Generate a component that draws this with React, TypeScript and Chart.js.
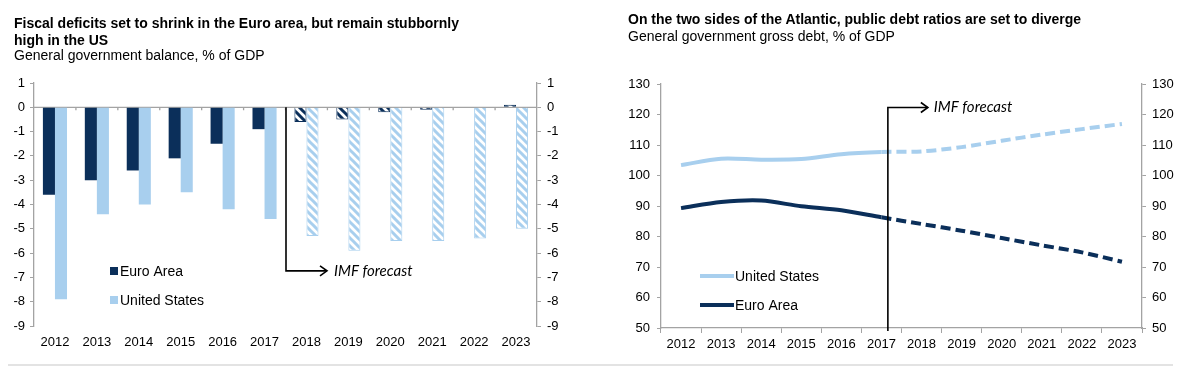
import React, { useEffect, useRef } from "react";
import { Chart, registerables } from "chart.js";

Chart.register(...registerables);

// ---------- DATA ----------
const years = ["2012", "2013", "2014", "2015", "2016", "2017", "2018", "2019", "2020", "2021", "2022", "2023"];
const euroBalance = [-3.6, -3.0, -2.6, -2.1, -1.5, -0.9, -0.6, -0.5, -0.2, -0.1, 0, 0.1];
const usBalance = [-7.9, -4.4, -4.0, -3.5, -4.2, -4.6, -5.3, -5.9, -5.5, -5.5, -5.4, -5.0];
const usDebt = [103.4, 105.5, 105.2, 105.4, 107.0, 107.7, 107.9, 109.3, 111.4, 113.4, 115.2, 116.9];
const euroDebt = [89.3, 91.3, 91.8, 89.9, 88.6, 86.3, 84.1, 81.9, 79.5, 77.1, 74.8, 71.7];
const firstForecastIndex = 6;
const balanceMin = -9;
const balanceMax = 1;
const debtMin = 50;
const debtMax = 130;
const seriesNames = ["Euro Area", "United States"];
const annotationText = "IMF forecast";
const leftTitle1 = "Fiscal deficits set to shrink in the Euro area, but remain stubbornly";
const leftTitle2 = "high in the US";
const leftSubtitle = "General government balance, % of GDP";
const rightTitle = "On the two sides of the Atlantic, public debt ratios are set to diverge";
const rightSubtitle = "General government gross debt, % of GDP";

// ---------- STYLE ----------
const NAVY = "#0b2f5a";
const LIGHT = "#a8cfee";
const AXIS = "#a3a3a3";
const FONT = "'Liberation Sans', Arial, sans-serif";
const tickFont = { family: FONT, size: 13 };

function hatch(color: string) {
  const s = 8;
  const c = document.createElement("canvas");
  c.width = s;
  c.height = s;
  const g = c.getContext("2d")!;
  g.fillStyle = "#ffffff";
  g.fillRect(0, 0, s, s);
  g.strokeStyle = color;
  g.lineWidth = 3;
  g.beginPath();
  g.moveTo(-2, -2);
  g.lineTo(s + 2, s + 2);
  g.moveTo(-2, s - 2);
  g.lineTo(2, s + 2);
  g.moveTo(s - 2, -2);
  g.lineTo(s + 2, 2);
  g.stroke();
  return g.createPattern(c, "repeat")!;
}

function drawArrowHead(g: CanvasRenderingContext2D, x: number, y: number) {
  g.beginPath();
  g.moveTo(x - 7, y - 5);
  g.lineTo(x, y);
  g.lineTo(x - 7, y + 5);
  g.stroke();
}

const fixWidth = (w: number) => (scale: any) => {
  scale.width = w;
};
const fixHeight = (h: number) => (scale: any) => {
  scale.height = h;
};

function BalanceChart() {
  const ref = useRef<HTMLCanvasElement>(null);
  useEffect(() => {
    const navyHatch = hatch(NAVY);
    const lightHatch = hatch(LIGHT);
    const overlay = {
      id: "balanceOverlay",
      beforeDatasetsDraw(chart: any) {
        const g = chart.ctx;
        const x = chart.scales.x;
        const y = chart.scales.y;
        const y0 = y.getPixelForValue(0);
        g.save();
        g.strokeStyle = AXIS;
        g.lineWidth = 1.3;
        g.beginPath();
        g.moveTo(chart.chartArea.left, y0);
        g.lineTo(chart.chartArea.right, y0);
        const step = x.getPixelForValue(1) - x.getPixelForValue(0);
        for (let i = 1; i < years.length; i++) {
          const px = x.getPixelForValue(i) - step / 2;
          g.moveTo(px, y0);
          g.lineTo(px, y0 + 3);
        }
        g.stroke();
        g.restore();
      },
      afterDatasetsDraw(chart: any) {
        const g = chart.ctx;
        const x = chart.scales.x;
        const y = chart.scales.y;
        const step = x.getPixelForValue(1) - x.getPixelForValue(0);
        const ax = x.getPixelForValue(firstForecastIndex) - step / 2 + 0.5;
        const top = y.getPixelForValue(0);
        const bot = y.getPixelForValue(-6.73);
        g.save();
        g.strokeStyle = "#000";
        g.lineWidth = 1.6;
        g.beginPath();
        g.moveTo(ax, top);
        g.lineTo(ax, bot);
        g.lineTo(ax + 41, bot);
        g.stroke();
        drawArrowHead(g, ax + 41, bot);
        g.fillStyle = "#000";
        g.font = "italic 15px Lato, 'Open Sans', sans-serif";
        g.textBaseline = "middle";
        g.fillText(annotationText, ax + 48, bot);
        // legend
        g.font = `14px ${FONT}`;
        const lx = 110;
        const items = [
          { c: NAVY, t: seriesNames[0], yy: 271 },
          { c: LIGHT, t: seriesNames[1], yy: 300 },
        ];
        for (const it of items) {
          g.fillStyle = it.c;
          g.fillRect(lx, it.yy - 4, 8, 8);
          g.fillStyle = "#000";
          g.fillText(it.t, lx + 10, it.yy + 1);
        }
        g.restore();
      },
    };
    const chart = new Chart(ref.current!, {
      type: "bar",
      data: {
        labels: years,
        datasets: [
          {
            label: seriesNames[0],
            data: euroBalance,
            backgroundColor: (c: any) => (c.dataIndex >= firstForecastIndex ? navyHatch : NAVY),
            borderColor: NAVY,
            borderWidth: (c: any) => (c.dataIndex >= firstForecastIndex ? 1 : 0),
            yAxisID: "y",
          },
          {
            label: seriesNames[1],
            data: usBalance,
            backgroundColor: (c: any) => (c.dataIndex >= firstForecastIndex ? lightHatch : LIGHT),
            borderColor: LIGHT,
            borderWidth: (c: any) => (c.dataIndex >= firstForecastIndex ? 1 : 0),
            yAxisID: "y",
          },
        ],
      },
      options: {
        responsive: false,
        animation: false,
        layout: { padding: { top: 83, left: 0, right: 0, bottom: 0 } },
        datasets: { bar: { barPercentage: 1, categoryPercentage: 0.575 } },
        plugins: { legend: { display: false }, tooltip: { enabled: false } },
        scales: {
          x: {
            grid: { display: false, drawTicks: false },
            border: { display: false },
            ticks: { color: "#000", font: tickFont, padding: 9, maxRotation: 0 },
            afterFit: fixHeight(54),
          },
          y: {
            position: "left",
            min: balanceMin,
            max: balanceMax,
            ticks: { stepSize: 1, color: "#000", font: tickFont, padding: 5 },
            grid: { drawOnChartArea: false, tickLength: 4, color: AXIS },
            border: { color: AXIS, width: 1.3 },
            afterFit: fixWidth(34),
          },
          y2: {
            position: "right",
            min: balanceMin,
            max: balanceMax,
            ticks: { stepSize: 1, color: "#000", font: tickFont, padding: 6 },
            grid: { drawOnChartArea: false, tickLength: 4, color: AXIS },
            border: { color: AXIS, width: 1.3 },
            afterFit: fixWidth(63),
          },
        },
      },
      plugins: [overlay],
    } as any);
    return () => chart.destroy();
  }, []);
  return <canvas ref={ref} width={600} height={380} style={{ display: "block" }} />;
}

function DebtChart() {
  const ref = useRef<HTMLCanvasElement>(null);
  useEffect(() => {
    const overlay = {
      id: "debtOverlay",
      afterDatasetsDraw(chart: any) {
        const g = chart.ctx;
        const x = chart.scales.x;
        const y = chart.scales.y;
        const step = x.getPixelForValue(1) - x.getPixelForValue(0);
        const ax = x.getPixelForValue(firstForecastIndex - 1) + step * 0.16;
        const top = y.getPixelForValue(122.3);
        const bot = chart.chartArea.bottom + 3;
        g.save();
        g.strokeStyle = "#000";
        g.lineWidth = 1.6;
        g.beginPath();
        g.moveTo(ax, bot);
        g.lineTo(ax, top);
        g.lineTo(ax + 40, top);
        g.stroke();
        drawArrowHead(g, ax + 40, top);
        g.fillStyle = "#000";
        g.font = "italic 15px Lato, 'Open Sans', sans-serif";
        g.textBaseline = "middle";
        g.fillText(annotationText, ax + 46, top);
        // legend
        g.font = `14px ${FONT}`;
        const items = [
          { c: LIGHT, t: seriesNames[1], yy: 276 },
          { c: NAVY, t: seriesNames[0], yy: 305 },
        ];
        for (const it of items) {
          g.strokeStyle = it.c;
          g.lineWidth = 4;
          g.beginPath();
          g.moveTo(100, it.yy);
          g.lineTo(134, it.yy);
          g.stroke();
          g.fillStyle = "#000";
          g.fillText(it.t, 135, it.yy + 1);
        }
        g.restore();
      },
    };
    const dash = (c: any) => (c.p0DataIndex >= firstForecastIndex - 1 ? [10, 5] : undefined);
    const chart = new Chart(ref.current!, {
      type: "line",
      data: {
        labels: years,
        datasets: [
          {
            label: seriesNames[1],
            data: usDebt,
            borderColor: LIGHT,
            borderWidth: 4,
            pointRadius: 0,
            tension: 0.3,
            segment: { borderDash: dash },
          },
          {
            label: seriesNames[0],
            data: euroDebt,
            borderColor: NAVY,
            borderWidth: 4,
            pointRadius: 0,
            tension: 0.3,
            segment: { borderDash: dash },
          },
        ],
      },
      options: {
        responsive: false,
        animation: false,
        layout: { padding: { top: 84, left: 0, right: 0, bottom: 0 } },
        plugins: { legend: { display: false }, tooltip: { enabled: false } },
        scales: {
          x: {
            offset: true,
            grid: { offset: true, drawOnChartArea: false, tickLength: 5, color: AXIS },
            border: { color: AXIS, width: 1.3 },
            ticks: { color: "#000", font: tickFont, padding: 4, maxRotation: 0 },
            afterFit: fixHeight(52),
          },
          y: {
            position: "left",
            min: debtMin,
            max: debtMax,
            ticks: { stepSize: 10, color: "#000", font: tickFont, padding: 7 },
            grid: { drawOnChartArea: false, tickLength: 4, color: AXIS },
            border: { color: AXIS, width: 1.3 },
            afterFit: fixWidth(61),
          },
          y2: {
            position: "right",
            min: debtMin,
            max: debtMax,
            ticks: { stepSize: 10, color: "#000", font: tickFont, padding: 6 },
            grid: { drawOnChartArea: false, tickLength: 4, color: AXIS },
            border: { color: AXIS, width: 1.3 },
            afterFit: fixWidth(58),
          },
        },
      },
      plugins: [overlay],
    } as any);
    return () => chart.destroy();
  }, []);
  return <canvas ref={ref} width={600} height={380} style={{ display: "block" }} />;
}

const textBase: React.CSSProperties = {
  position: "absolute",
  fontFamily: FONT,
  lineHeight: "15px",
  fontSize: 14,
  whiteSpace: "nowrap",
  color: "#000",
  margin: 0,
};

export default function App() {
  return (
    <div style={{ position: "absolute", left: 0, top: 0, width: 1200, height: 380, background: "#fff", overflow: "hidden" }}>
      <div style={{ position: "absolute", left: 0, top: 0 }}>
        <BalanceChart />
      </div>
      <div style={{ position: "absolute", left: 600, top: 0 }}>
        <DebtChart />
      </div>
      <div style={{ ...textBase, left: 14, top: 16, fontWeight: "bold" }}>{leftTitle1}</div>
      <div style={{ ...textBase, left: 14, top: 33.3, fontWeight: "bold" }}>{leftTitle2}</div>
      <div style={{ ...textBase, left: 14, top: 47.6 }}>{leftSubtitle}</div>
      <div style={{ ...textBase, left: 628, top: 11.6, fontWeight: "bold" }}>{rightTitle}</div>
      <div style={{ ...textBase, left: 628, top: 28.6 }}>{rightSubtitle}</div>
      <div style={{ position: "absolute", left: 8, top: 364, width: 1165, height: 2, background: "#e3e3e3" }} />
    </div>
  );
}
